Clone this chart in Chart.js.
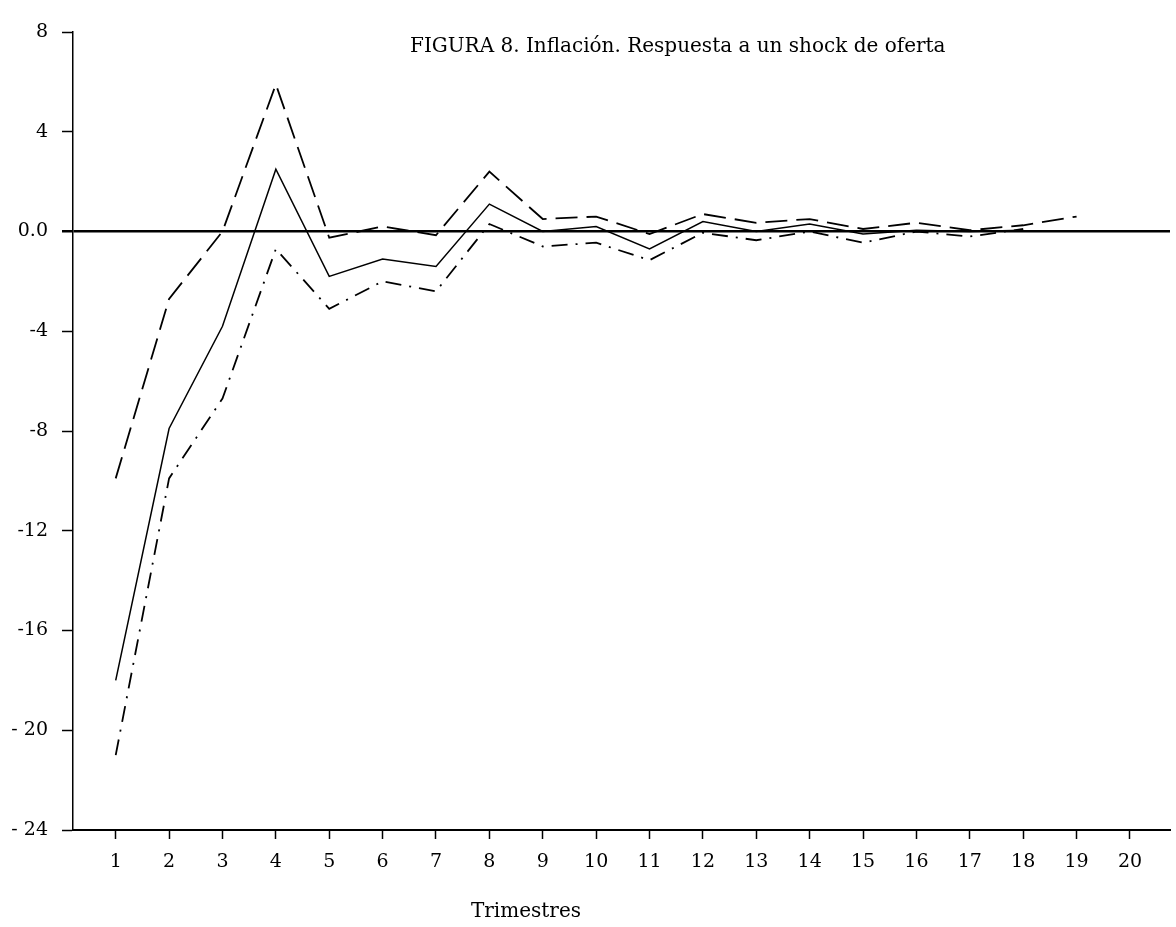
<!DOCTYPE html>
<html>
<head>
<meta charset="utf-8">
<title>FIGURA 8. Inflación</title>
<script src="https://cdn.jsdelivr.net/npm/chart.js@4"></script>
<style>
    html, body { margin: 0; padding: 0; background: #fff; }
    #wrap { width: 1176px; height: 927px; position: relative; }
</style>
</head>
<body>
<div id="wrap"><canvas id="chart"></canvas></div>
<script>
const quarters = [1, 2, 3, 4, 5, 6, 7, 8, 9, 10, 11, 12, 13, 14, 15, 16, 17, 18, 19, 20]
// respuesta estimada (linea continua)
const response = [-18.0, -7.9, -3.8, 2.5, -1.8, -1.1, -1.4, 1.1, 0.0, 0.2, -0.7, 0.4, 0.0, 0.3, -0.1, 0.05, 0.0, 0.05]
// banda superior (discontinua)
const upperBand = [-9.9, -2.7, 0.0, 5.9, -0.25, 0.2, -0.15, 2.4, 0.5, 0.6, -0.1, 0.7, 0.35, 0.5, 0.1, 0.35, 0.05, 0.25, 0.6]
// banda inferior (punto y raya)
const lowerBand = [-21.0, -9.9, -6.7, -0.7, -3.1, -2.0, -2.4, 0.3, -0.6, -0.45, -1.15, -0.05, -0.35, 0.0, -0.45, 0.0, -0.2, 0.1]

const yTicks = [8, 4, 0, -4, -8, -12, -16, -20, -24]
const yTickLabels = ["8", "4", "0.0", "-4", "-8", "-12", "-16", "- 20", "- 24"]

const chartTitle = "FIGURA 8. Inflación. Respuesta a un shock de oferta"
const xTitle = "Trimestres"

const FONT = '"DejaVu Serif", "Liberation Serif", serif'

const toPoints = (values) => values.map((v, i) => ({ x: quarters[i], y: v }))

const figureText = {
    id: "figureText",
    afterDraw(chart) {
        const ctx = chart.ctx
        ctx.save()
        ctx.fillStyle = "#000"
        ctx.font = `20px ${FONT}`
        ctx.textBaseline = "alphabetic"
        ctx.textAlign = "left"
        ctx.fillText(chartTitle, 410, 52)
        ctx.textAlign = "center"
        ctx.fillText(xTitle, 526, 917)
        ctx.restore()
    },
}

const ctx = document.getElementById("chart").getContext("2d")
new Chart(ctx, {
    type: "line",
    data: {
        datasets: [
            {
                label: "Respuesta",
                data: toPoints(response),
                borderColor: "#000",
                borderWidth: 1.5,
            },
            {
                label: "Banda superior",
                data: toPoints(upperBand),
                borderColor: "#000",
                borderWidth: 1.8,
                borderDash: [22, 9],
            },
            {
                label: "Banda inferior",
                data: toPoints(lowerBand),
                borderColor: "#000",
                borderWidth: 1.8,
                borderDash: [16, 8, 2, 8],
            },
        ],
    },
    options: {
        responsive: true,
        maintainAspectRatio: false,
        animation: false,
        devicePixelRatio: 1,
        layout: {
            padding: { top: 32, right: 6, left: 0, bottom: 0 },
        },
        elements: {
            point: { radius: 0, hoverRadius: 0 },
            line: { tension: 0, fill: false },
        },
        plugins: {
            legend: { display: false },
            tooltip: { enabled: false },
        },
        scales: {
            x: {
                type: "linear",
                min: 0.2,
                max: 20.75,
                afterBuildTicks: (axis) => {
                    axis.ticks = quarters.map((q) => ({ value: q }))
                },
                afterFit: (axis) => {
                    axis.height = 97
                },
                border: { display: true, color: "#000", width: 2 },
                grid: {
                    drawOnChartArea: false,
                    drawTicks: true,
                    tickLength: 9,
                    tickColor: "#000",
                    tickWidth: 1.5,
                    color: "rgba(0,0,0,0)",
                },
                ticks: {
                    color: "#000",
                    font: { family: FONT, size: 19 },
                    padding: 12,
                    maxRotation: 0,
                    autoSkip: false,
                    callback: (value) => String(value),
                },
            },
            y: {
                type: "linear",
                min: -24,
                max: 8,
                afterBuildTicks: (axis) => {
                    axis.ticks = yTicks.map((v) => ({ value: v }))
                },
                afterFit: (axis) => {
                    axis.width = 73
                },
                border: { display: true, color: "#000", width: 1.5 },
                grid: {
                    drawTicks: true,
                    tickLength: 11,
                    tickColor: "#000",
                    tickWidth: (c) => (c.tick && c.tick.value === 0 ? 2.5 : 1.5),
                    color: (c) => (c.tick && c.tick.value === 0 ? "#000" : "rgba(0,0,0,0)"),
                    lineWidth: (c) => (c.tick && c.tick.value === 0 ? 2.5 : 1),
                },
                ticks: {
                    color: "#000",
                    font: { family: FONT, size: 19 },
                    padding: 14,
                    autoSkip: false,
                    callback: (value) => {
                        const i = yTicks.indexOf(value)
                        return i >= 0 ? yTickLabels[i] : ""
                    },
                },
            },
        },
    },
    plugins: [figureText],
})
</script>
</body>
</html>
